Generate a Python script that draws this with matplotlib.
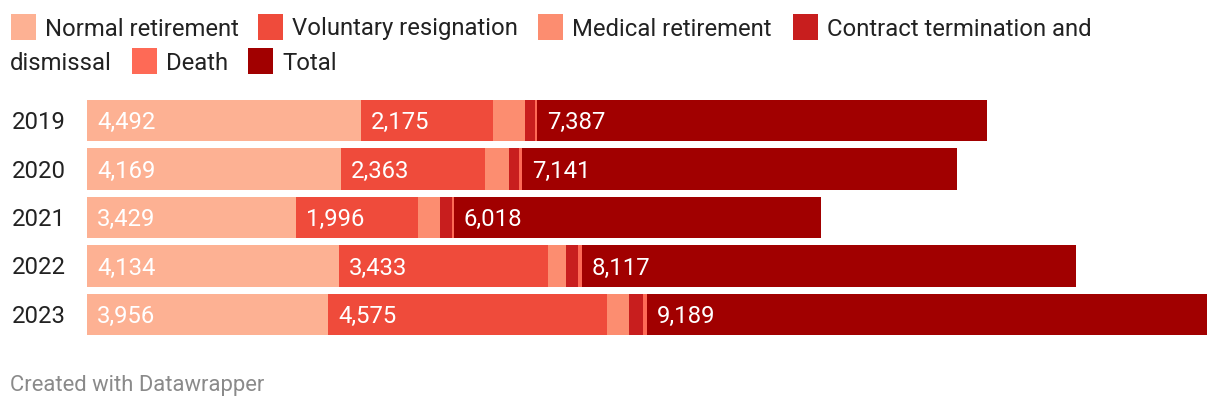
import matplotlib.pyplot as plt
from matplotlib.patches import Rectangle
import numpy as np

plt.rcParams['font.family'] = ['Roboto', 'DejaVu Sans']

years = ["2019", "2020", "2021", "2022", "2023"]
categories = ["Normal retirement", "Voluntary resignation", "Medical retirement",
              "Contract termination and dismissal", "Death", "Total"]
normal = [4492, 4169, 3429, 4134, 3956]
voluntary = [2175, 2363, 1996, 3433, 4575]
medical = [523, 394, 361, 295, 361]
contract = [164, 164, 197, 197, 230]
death = [33, 51, 35, 58, 67]
total = [7387, 7141, 6018, 8117, 9189]

colors = ["#fdb193", "#ef4b3b", "#fc8d70", "#c81e1e", "#fe6a56", "#a10000"]
series = [normal, voluntary, medical, contract, death, total]

FS = 17.2
W, H = 1220, 412
fig = plt.figure(figsize=(W / 100, H / 100), dpi=100)

# bar area in pixels: x 87..1207, y 100..335
ax = fig.add_axes([87 / W, 1 - 335 / H, 1120 / W, 235 / H])
y = np.arange(len(years))
left = np.zeros(len(years))
for vals, col in zip(series, colors):
    vals = np.array(vals, dtype=float)
    ax.barh(y, vals, left=left, height=0.85, color=col, linewidth=0)
    for i, v in enumerate(vals):
        if v > 1000:
            ax.annotate(f"{int(v):,}", (left[i], y[i]), xytext=(7.2, -1.5),
                        textcoords="offset points", ha="left", va="center",
                        color="white", fontsize=FS)
    left += vals

ax.set_xlim(0, left.max())
ax.set_ylim(len(years) - 1 + 0.425, -0.425)
ax.axis("off")

for i, yr in enumerate(years):
    ax.annotate(yr, (0, y[i]), xycoords=("figure pixels", "data"),
                xytext=(12, -2), textcoords="offset pixels",
                ha="left", va="center", fontsize=FS, color="#222222")

# legend, laid out like the wrapped Datawrapper legend
def legend_item(x, yc, col, label):
    fig.patches.append(Rectangle((x / W, 1 - (yc + 13) / H), 25 / W, 26 / H,
                                 transform=fig.transFigure, color=col, linewidth=0))
    fig.text((x + 34) / W, 1 - (yc + 2) / H, label, ha="left", va="center",
             fontsize=FS, color="#222222")

row1 = 27
row2 = 61
legend_item(11, row1, colors[0], categories[0])
legend_item(258, row1, colors[1], categories[1])
legend_item(538, row1, colors[2], categories[2])
legend_item(793, row1, colors[3], "Contract termination and")
fig.text(10 / W, 1 - (row2 + 2) / H, "dismissal", ha="left", va="center",
         fontsize=FS, color="#222222")
legend_item(132, row2, colors[4], categories[4])
legend_item(248, row2, colors[5], categories[5])

fig.text(10 / W, 1 - 386 / H, "Created with Datawrapper", ha="left", va="center",
         fontsize=15.8, color="#8a8a8a")

fig.savefig("out.png", dpi=100)
